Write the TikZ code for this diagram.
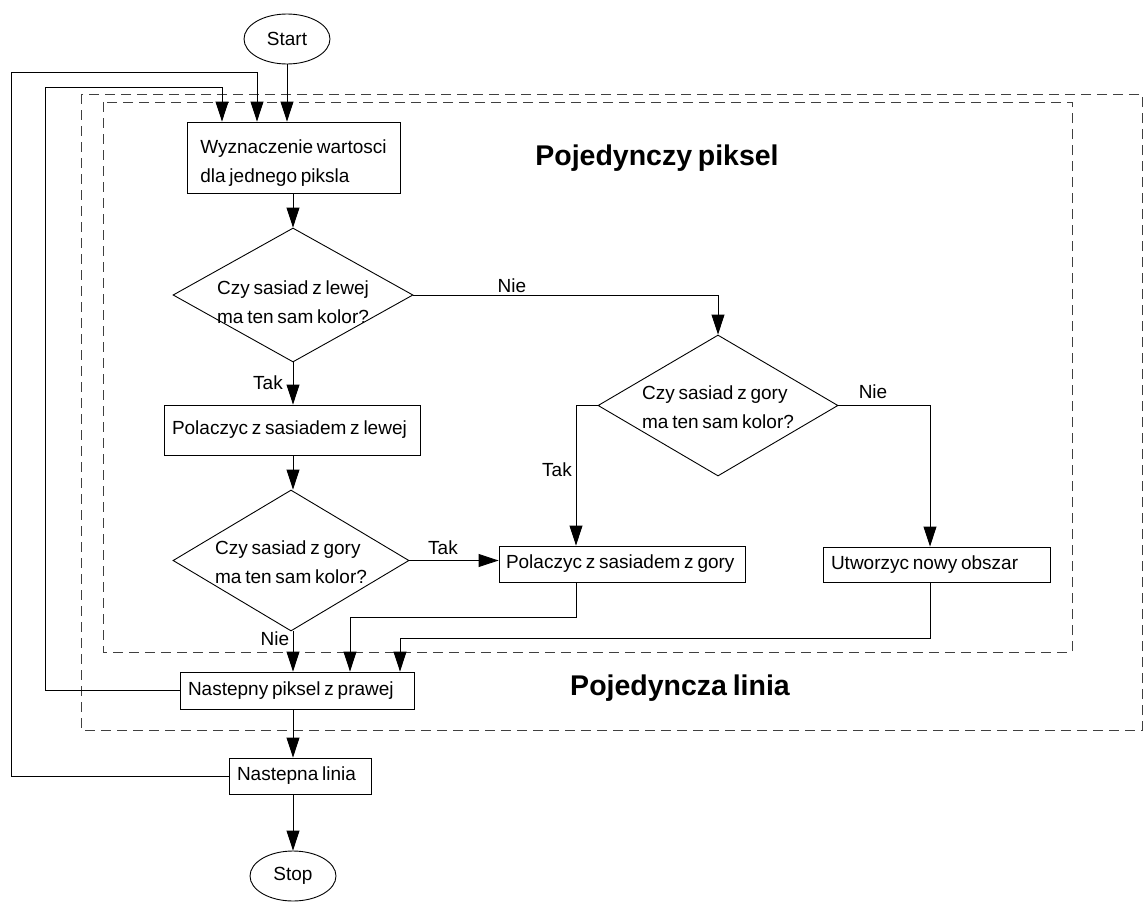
\documentclass[tikz,border=0pt]{standalone}
\usepackage{fontspec}
\setmainfont{Liberation Sans}[WordSpace=0.72]
\usetikzlibrary{arrows.meta,shapes.geometric}
\newcommand{\plainspace}{\spaceskip=0pt\xspaceskip=0pt\relax}
\begin{document}
\begin{tikzpicture}[x=1pt,y=-1pt,
  every node/.style={font=\fontsize{19}{29}\selectfont},
  flow/.style={line width=0.9pt, -{Triangle[length=20pt,width=13pt]}},
  stepbox/.style={draw, line width=0.9pt, rectangle, inner xsep=8pt, inner ysep=0pt, align=left},
  term/.style={draw, line width=0.9pt, ellipse, minimum width=86pt, minimum height=50pt, inner sep=0pt},
  test/.style={draw, line width=0.9pt, diamond, inner sep=0pt},
  frame/.style={line width=0.9pt, draw=black!75, dash pattern=on 10pt off 6pt},
  lbl/.style={inner sep=0pt},
  title/.style={inner sep=0pt, font=\fontsize{28.5}{32}\selectfont\bfseries}
]
\useasboundingbox (0,0) rectangle (1144,902);

% group frames
\draw[frame] (81,94) rectangle (1142,730);
\draw[frame] (103,102) rectangle (1072,652);
\node[title] (tpix) at (657,158) {Pojedynczy piksel};
\node[title] (tlin) at (680,688) {Pojedyncza linia};

% routing helpers
\coordinate (axis) at (293,0);
\coordinate (xin1) at (222,0);
\coordinate (xin2) at (257,0);
\coordinate (outerTL) at (11,72);
\coordinate (innerTL) at (45,87);
\coordinate (xg) at (576,0);
\coordinate (xu) at (930,0);
\coordinate (j1) at (350,617);
\coordinate (j2) at (400,638);

% nodes
\node[term] (start) at (287,39) {Start};
\node[draw, line width=0.9pt, minimum width=213pt, minimum height=71pt, inner sep=0pt,
  label={[align=left, yshift=-6pt]center:Wyznaczenie wartosci\\dla jednego piksla}] (calc) at (293.5,157.5) {};
\node[test, minimum width=240pt, minimum height=134pt,
  label={[align=left, yshift=-7pt]center:Czy sasiad z lewej\\ma ten sam kolor?}] (d1) at (293,295) {};
\node[stepbox, text width=240pt, minimum height=50pt] (left) at (292,430) {\plainspace\mbox{Polaczyc z sasiadem z lewej}};
\node[test, minimum width=236pt, minimum height=141pt,
  label={[align=left, yshift=-2pt]center:Czy sasiad z gory\\ma ten sam kolor?}] (d3) at (291,560.5) {};
\node[test, minimum width=240pt, minimum height=141pt,
  label={[align=left, yshift=-2pt]center:Czy sasiad z gory\\ma ten sam kolor?}] (d2) at (718,405.5) {};
\node[stepbox, inner xsep=7pt, text width=232pt, minimum height=36pt] (up) at (622,564) {\plainspace\mbox{Polaczyc z sasiadem z gory}};
\node[stepbox, text width=211pt, minimum height=35pt] (new) at (936.5,564.5) {\plainspace\mbox{Utworzyc nowy obszar}};
\node[stepbox, text width=218pt, minimum height=37pt] (nextpx) at (297,690.5) {\plainspace\mbox{Nastepny piksel z prawej}};
\node[stepbox, text width=126pt, minimum height=36pt] (nextln) at (300,776) {\plainspace\mbox{Nastepna linia}};
\node[term] (stop) at (293,876) {Stop};

% branch labels
\node[lbl] (nie1) at (512,286) {Nie};
\node[lbl] (tak1) at (268,383) {Tak};
\node[lbl] (nie2) at (873,392) {Nie};
\node[lbl] (tak2) at (557,470) {Tak};
\node[lbl] (tak3) at (443,548) {Tak};
\node[lbl] (nie3) at (275,639) {Nie};

% connectors
\draw[flow] (start.south) -- (calc.north -| start.south);
\draw[flow] (calc.south -| d1.north) -- (d1.north);
\draw[flow] (d1.east) -| (d2.north);
\draw[flow] (d1.south) -- (left.north -| d1.south);
\draw[flow] (left.south -| axis) -- (d3.north -| axis);
\draw[flow] (d3.east) -- (up.west |- d3.east);
\draw[flow] (d3.south -| axis) -- (nextpx.north -| axis);
\draw[flow] (d2.west) -| (up.north -| xg);
\draw[flow] (d2.east) -| (new.north -| xu);
\draw[flow] (up.south -| xg) |- (j1) -- (nextpx.north -| j1);
\draw[flow] (new.south -| xu) |- (j2) -- (nextpx.north -| j2);
\draw[flow] (nextpx.south -| axis) -- (nextln.north -| axis);
\draw[flow] (nextln.south -| axis) -- (stop.north);
\draw[flow] (nextpx.west) -| (innerTL) -| (calc.north -| xin1);
\draw[flow] (nextln.west) -| (outerTL) -| (calc.north -| xin2);
\end{tikzpicture}
\end{document}
